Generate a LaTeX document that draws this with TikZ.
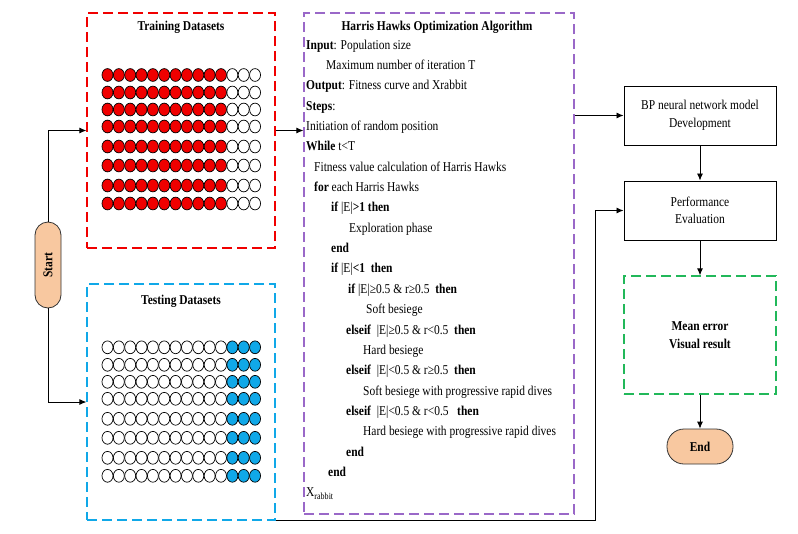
\documentclass[tikz,border=0pt]{standalone}
\usepackage{fontspec}
\setmainfont{Liberation Serif}[FakeStretch=0.85]
\usetikzlibrary{arrows.meta}
\usetikzlibrary{positioning}
\definecolor{trainred}{HTML}{F00000}
\definecolor{testblue}{HTML}{10A8E8}
\definecolor{hhopurple}{HTML}{9A68C8}
\definecolor{meangreen}{HTML}{22B85A}
\definecolor{peach}{HTML}{F8C8A0}

\begin{document}
\begin{tikzpicture}[x=1pt, y=-1pt,
            font=\fontsize{13.5}{17.5}\selectfont,
            >={Latex[length=7pt,width=6pt]},
            dashbox/.style={rectangle, draw, dash pattern=on 10pt off 5pt, line width=1.3pt},
            block/.style={rectangle, draw, line width=1pt, minimum width=152pt, minimum height=59pt, align=center},
            term/.style={rectangle, draw=black!80, fill=peach, line width=0.8pt, font=\fontsize{13.5}{17.5}\selectfont\bfseries}
        ]
            \useasboundingbox (0,0) rectangle (798,533);

            % data sets
            \node[dashbox, draw=trainred, minimum width=188pt, minimum height=235pt] (train) at (181,130.5) {};
            \node[dashbox, draw=testblue, minimum width=188pt, minimum height=236pt] (test) at (181,402) {};
            \node[anchor=base] (traintitle) at (181,30) {\textbf{Training Datasets}};
            \node[anchor=base] (testtitle) at (181,304) {\textbf{Testing Datasets}};
            \foreach \dy in {0,17.5,34.5,51.5,71.5,90.5,110.5,128.5}
                \foreach \c in {0,...,13} {
                    \ifnum\c<11 \def\trainfill{trainred}\def\testfill{white}\else\def\trainfill{white}\def\testfill{testblue}\fi
                    \filldraw[fill=\trainfill, line width=0.7pt] (107.5+11.35*\c,75+\dy) ellipse [x radius=5.5pt, y radius=6.4pt];
                    \filldraw[fill=\testfill, line width=0.7pt] (107.5+11.35*\c,347.3+\dy) ellipse [x radius=5.5pt, y radius=6.4pt];
                }

            % start / end
            \node[term, rotate=90, minimum width=86pt, minimum height=26pt, rounded corners=13pt] (start) at (48,265) {Start};
            \node[term, minimum width=66pt, minimum height=35pt, rounded corners=17pt] (end) at (700,446.5) {End};

            % algorithm
            \node[dashbox, draw=hhopurple, minimum width=270pt, minimum height=501pt] (hho) at (439,263.5) {};
            \node[anchor=base] (hhotitle) at (437,30) {\textbf{Harris Hawks Optimization Algorithm}};
            \foreach \dx/\txt [count=\i from 0] in {
                0/{\textbf{Input}: Population size},
                20/{Maximum number of iteration T},
                0/{\textbf{Output}: Fitness curve and Xrabbit},
                0/{\textbf{Steps}:},
                0/{Initiation of random position},
                0/{\textbf{While} t<T},
                8/{Fitness value calculation of Harris Hawks},
                8/{\textbf{for} each Harris Hawks},
                25/{\textbf{if} |E|\textbf{>1 then}},
                43/{Exploration phase},
                25/{\textbf{end}},
                25/{\textbf{if} |E|\textbf{<1 \ then}},
                42/{\textbf{if} |E|≥0.5 \& r≥0.5 \ \textbf{then}},
                60/{Soft besiege},
                40/{\textbf{elseif} \ |E|≥0.5 \& r<0.5 \ \textbf{then}},
                57/{Hard besiege},
                40/{\textbf{elseif} \ |E|<0.5 \& r≥0.5 \ \textbf{then}},
                57/{Soft besiege with progressive rapid dives},
                40/{\textbf{elseif} \ |E|<0.5 \& r<0.5 \ \ \textbf{then}},
                57/{Hard besiege with progressive rapid dives},
                40/{\textbf{end}},
                22/{\textbf{end}},
                0/{X\textsubscript{rabbit}}}
                \node[anchor=base west, inner sep=0pt] (alg\i) at (306+\dx,49+20.36*\i) {\txt};

            % model side
            \node[block] (bp) at (700,115.5) {BP neural network model\\Development};
            \node[block] (perf) at (700,210.5) {Performance\\Evaluation};
            \node[dashbox, draw=meangreen, minimum width=152pt, minimum height=118pt, align=center] (mean) at (700,335) {\textbf{Mean error}\\\textbf{Visual result}};
            \coordinate (turn) at (595,522);

            \draw[->, thick] (start.east) |- (train.west);
            \draw[->, thick] (start.west) |- (test.west);
            \draw[->, thick] (train.east) -- (train.east -| hho.west);
            \draw[->, thick] (hho.east |- bp.west) -- (bp.west);
            \draw[->, thick] (bp) -- (perf);
            \draw[->, thick] (perf) -- (mean);
            \draw[->, thick] (mean) -- (end);
            \draw[->, thick] (test.south east) -- (test.south east -| turn) |- (perf.west);
        \end{tikzpicture}
\end{document}
